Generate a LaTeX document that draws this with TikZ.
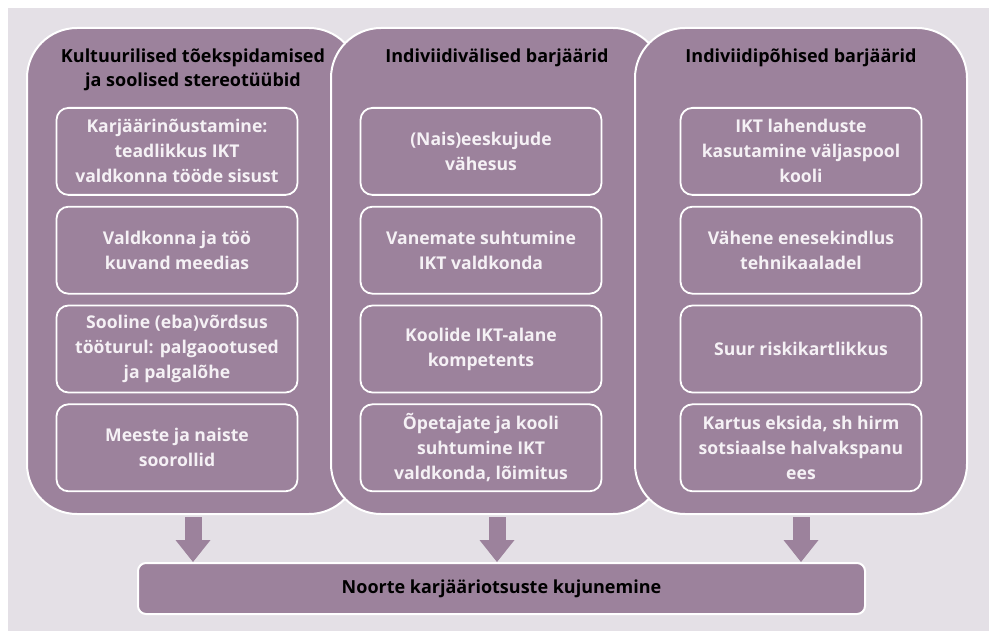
\documentclass[tikz,border=0pt]{standalone}
\usepackage{fontspec}
\setmainfont{Open Sans}
\usetikzlibrary{positioning,arrows.meta}
\definecolor{mauve}{HTML}{9C829C}
\definecolor{backdrop}{HTML}{E4E0E6}
\definecolor{paletext}{HTML}{F5F1F5}

\begin{document}
\begin{tikzpicture}[x=1pt,y=-1pt,
  column/.style={draw=white, line width=2pt, fill=mauve, rounded corners=50pt, minimum width=332pt, minimum height=486pt, anchor=north},
  heading/.style={inner sep=0pt, align=center, font=\bfseries\fontsize{18}{23.5}\selectfont},
  barrier/.style={draw=white, line width=1.8pt, fill=mauve, rounded corners=12pt, minimum width=241pt, minimum height=87pt, align=center, text=paletext, font=\bfseries\fontsize{17.6}{25}\selectfont},
  outcome/.style={draw=white, line width=2pt, fill=mauve, rounded corners=8pt, minimum width=727pt, minimum height=51pt, font=\bfseries\fontsize{18}{20}\selectfont},
  flow/.style={mauve, line width=17pt, shorten <=2pt, -{Triangle[width=35pt,length=22pt,line width=0pt]}}]
  \useasboundingbox (0,0) rectangle (989,631);
  \fill[backdrop] (8,8) rectangle (989,631);

  \node[column] (kult) at (193,27) {};
  \node[column] (valis) at (497,27) {};
  \node[column] (isik) at (801,27) {};

  \node[heading,below=22pt of kult.north] (kulthead) {Kultuurilised tõekspidamised\\ja soolised stereotüübid};
  \node[heading,below=22pt of valis.north] (valishead) {Indiviidivälised barjäärid};
  \node[heading,below=22pt of isik.north] (isikhead) {Indiviidipõhised barjäärid};

  \node[barrier,below=80pt of kult.north,xshift=-16pt] (kult1) {Karjäärinõustamine:\\teadlikkus IKT\\valdkonna tööde sisust};
  \node[barrier,below=10pt of kult1] (kult2) {Valdkonna ja töö\\kuvand meedias};
  \node[barrier,below=10pt of kult2] (kult3) {Sooline (eba)võrdsus\\tööturul: palgaootused\\ja palgalõhe};
  \node[barrier,below=10pt of kult3] (kult4) {Meeste ja naiste\\soorollid};

  \node[barrier,below=80pt of valis.north,xshift=-16pt] (valis1) {(Nais)eeskujude\\vähesus};
  \node[barrier,below=10pt of valis1] (valis2) {Vanemate suhtumine\\IKT valdkonda};
  \node[barrier,below=10pt of valis2] (valis3) {Koolide IKT-alane\\kompetents};
  \node[barrier,below=10pt of valis3] (valis4) {Õpetajate ja kooli\\suhtumine IKT\\valdkonda, lõimitus};

  \node[barrier,below=80pt of isik.north] (isik1) {IKT lahenduste\\kasutamine väljaspool\\kooli};
  \node[barrier,below=10pt of isik1] (isik2) {Vähene enesekindlus\\tehnikaaladel};
  \node[barrier,below=10pt of isik2] (isik3) {Suur riskikartlikkus};
  \node[barrier,below=10pt of isik3] (isik4) {Kartus eksida, sh hirm\\sotsiaalse halvakspanu\\ees};

  \node[outcome] (noored) at (501.5,588.5) {Noorte karjääriotsuste kujunemine};

  \foreach \c in {kult,valis,isik} {
    \draw[flow] (\c.south) -- (\c.south |- noored.north);
  }
\end{tikzpicture}
\end{document}
